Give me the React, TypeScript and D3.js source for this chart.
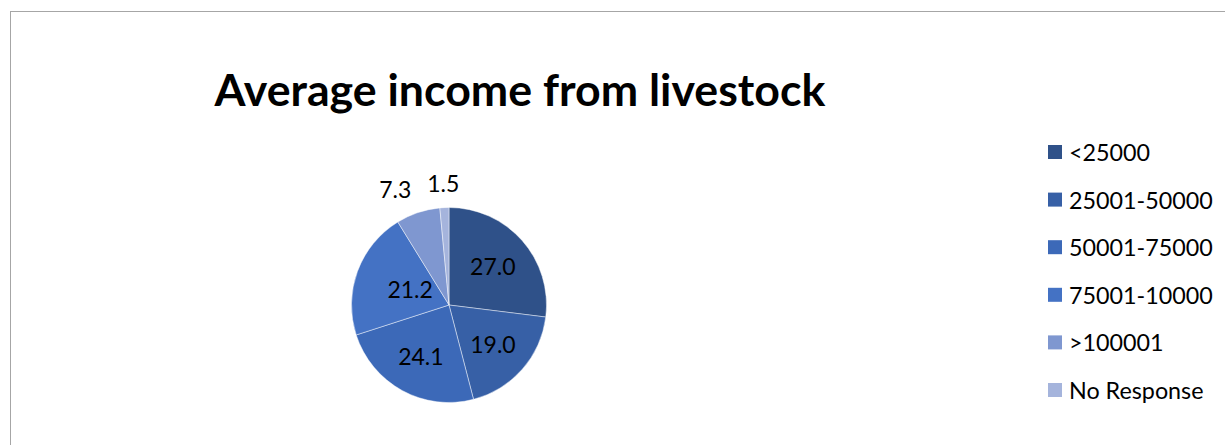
import React from "react";
import * as d3 from "d3";

const categories = ["<25000", "25001-50000", "50001-75000", "75001-10000", ">100001", "No Response"];
const values = [27.0, 19.0, 24.1, 21.2, 7.3, 1.5];
const colors = ["#2F5189", "#3760A6", "#3C69B8", "#4472C4", "#7F97D0", "#A5B4DC"];
const title = "Average income from livestock";

const W = 1225;
const H = 445;
const FONT = "Lato, 'Open Sans', sans-serif";

export default function App() {
  const cx = 449;
  const cy = 305;
  const r = 97.5;
  const pie = d3.pie<number>().sort(null).value((d) => d);
  const arcs = pie(values);
  const arcGen = d3.arc<d3.PieArcDatum<number>>().innerRadius(0).outerRadius(r);
  const inner = d3.arc<d3.PieArcDatum<number>>().innerRadius(r * 0.6).outerRadius(r * 0.6);
  const outer = d3.arc<d3.PieArcDatum<number>>().innerRadius(r * 1.25).outerRadius(r * 1.25);

  const legendY = d3.scalePoint<string>().domain(categories).range([152, 390]);

  // best-fit label adjustments (collision avoidance, like the original)
  const labelShift = (i: number): [number, number] => {
    if (i === 4) return [-15, 0];
    if (i === 3) return [16, 4];
    return [0, 0];
  };

  return (
    <svg width={W} height={H} style={{ position: "absolute", left: 0, top: 0, background: "#fff" }} fontFamily={FONT}>
      <rect x={10.5} y={11.5} width={W + 10} height={H + 10} fill="#fff" stroke="#a6a6a6" strokeWidth={1} />
      <text x={520} y={106} textAnchor="middle" fontSize={44.7} fontWeight={700} fill="#000">
        {title}
      </text>
      <g transform={`translate(${cx},${cy})`}>
        {arcs.map((a, i) => (
          <path key={i} d={arcGen(a) || ""} fill={colors[i]} stroke="#ffffff" strokeOpacity={0.6} strokeWidth={0.75} />
        ))}
        {arcs.map((a, i) => {
          const small = a.value < 10;
          const [x, y] = small ? outer.centroid(a) : inner.centroid(a);
          const [dx, dy] = labelShift(i);
          return (
            <text key={i} x={x + dx} y={y + dy} textAnchor="middle" dominantBaseline="central" fontSize={23} fill="#000">
              {a.value.toFixed(1)}
            </text>
          );
        })}
      </g>
      {categories.map((c, i) => (
        <g key={c}>
          <rect x={1048} y={(legendY(c) as number) - 7} width={14} height={14} fill={colors[i]} />
          <text x={1069} y={legendY(c) as number} dominantBaseline="central" fontSize={23.3} fill="#000">
            {c}
          </text>
        </g>
      ))}
    </svg>
  );
}
